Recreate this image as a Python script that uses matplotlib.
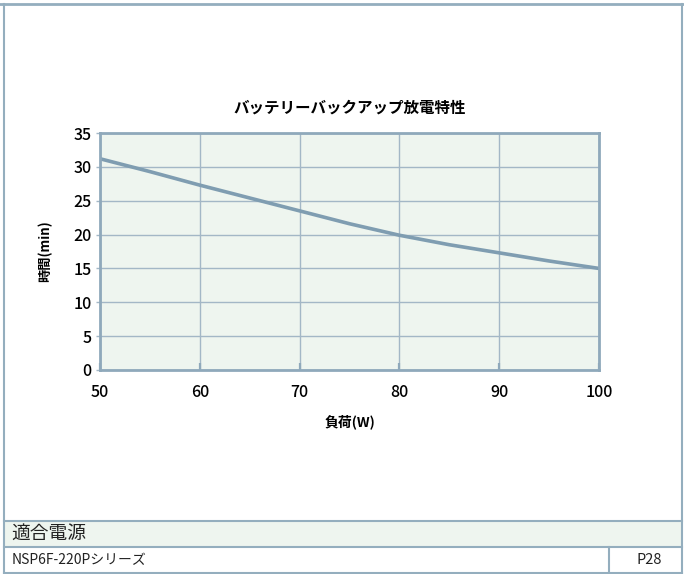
import matplotlib
matplotlib.use("Agg")
import matplotlib.pyplot as plt
from matplotlib.lines import Line2D
from matplotlib.patches import Rectangle

plt.rcParams['font.family'] = ['Noto Sans CJK JP', 'DejaVu Sans']

# 負荷(W) と 放電時間(min)
load_w = [50, 55, 60, 65, 70, 75, 80, 85, 90, 95, 100]
time_min = [31.2, 29.3, 27.3, 25.4, 23.5, 21.6, 19.9, 18.5, 17.3, 16.1, 15.0]
x_ticks = [50, 60, 70, 80, 90, 100]
y_ticks = [0, 5, 10, 15, 20, 25, 30, 35]

W, H = 684, 574
fig = plt.figure(figsize=(W / 100, H / 100), dpi=100)

line_col = '#94aebe'
grid_col = '#a3b7c6'
green = '#eef5ef'


def px(x0, y0, x1, y1, lw=1.5, c=line_col):
    fig.add_artist(Line2D([x0 / W, x1 / W], [1 - y0 / H, 1 - y1 / H],
                          transform=fig.transFigure, color=c, lw=lw))


# ページの枠
fig.add_artist(Rectangle((4 / W, 1 - 547 / H), 678 / W, 26 / H,
                         transform=fig.transFigure, facecolor=green,
                         edgecolor='none'))
px(0, 4, W, 4, lw=2.0)
px(4, 4, 4, 573)
px(682, 4, 682, 573)
px(4, 521, 682, 521)
px(4, 547, 682, 547)
px(4, 572.5, 682, 572.5)
px(609, 547, 609, 573)

fig.text(11 / W, 1 - 533 / H, '適合電源', fontsize=13.5, va='center',
         ha='left', color='#222222')
fig.text(12 / W, 1 - 560 / H, 'NSP6F-220Pシリーズ', fontsize=10,
         va='center', ha='left', color='#222222')
fig.text(649 / W, 1 - 560 / H, 'P28', fontsize=10.5, va='center',
         ha='center', color='#222222')

# グラフ
ax = fig.add_axes([100 / W, 1 - 370 / H, 499 / W, 237 / H])
ax.set_facecolor(green)
ax.plot(load_w, time_min, color='#7f9db1', lw=2.6, solid_capstyle='butt')
ax.set_xlim(50, 100)
ax.set_ylim(0, 35)
ax.set_xticks(x_ticks)
ax.set_yticks(y_ticks)
ax.grid(True, color=grid_col, lw=1.0)
ax.set_axisbelow(True)
for s in ax.spines.values():
    s.set_color('#8fa9bb')
    s.set_linewidth(2.0)
ax.tick_params(axis='x', direction='in', length=5, width=1.6,
               color='#8fa9bb', pad=10, labelsize=11.5)
ax.tick_params(axis='y', direction='out', length=3, width=1.0,
               color=grid_col, pad=3, labelsize=11.5)
for lab in ax.get_xticklabels() + ax.get_yticklabels():
    lab.set_fontweight('medium')

ax.set_title('バッテリーバックアップ放電特性', fontsize=11.2, fontweight='bold',
             pad=15)
ax.set_xlabel('負荷(W)', fontsize=10, fontweight='bold', labelpad=10)
ax.set_ylabel('時間(min)', fontsize=9.5, fontweight='bold', labelpad=15)

fig.savefig('out.png', dpi=100)
